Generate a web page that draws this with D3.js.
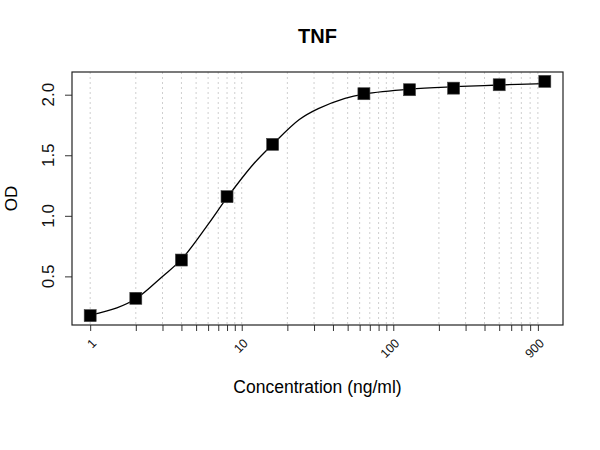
<!DOCTYPE html>
<html>
<head>
<meta charset="utf-8">
<script src="https://cdn.jsdelivr.net/npm/d3@7"></script>
<style>
  body { margin: 0; background: #fff; }
  svg { font-family: "Liberation Sans", Arial, sans-serif; }
</style>
</head>
<body>
<svg id="chart"></svg>
<script>
// measured standards (concentration, OD)
const conc = [1, 2, 4, 8, 16, 64, 128, 250, 500, 1000]
const od = [0.176, 0.319, 0.635, 1.158, 1.59, 2.008, 2.041, 2.054, 2.082, 2.110]

// fitted curve
const fitConc = [1, 1.5, 2, 3, 4, 6, 8, 12, 16, 24, 32, 48, 64, 128, 250, 500, 1000]
const fitOd = [0.18, 0.24, 0.315, 0.50, 0.64, 0.93, 1.15, 1.43, 1.59, 1.795, 1.885, 1.97, 2.005, 2.046, 2.066, 2.08, 2.092]

// axis ticks
const xTicks = [1, 2, 3, 4, 5, 6, 7, 8, 9, 10, 20, 30, 40, 50, 60, 70, 80, 90,
    100, 200, 300, 400, 500, 600, 700, 800, 900]
const xLabels = [1, 10, 100, 900]
const yTicks = [0.5, 1.0, 1.5, 2.0]

const width = 600, height = 450
const margin = {top: 72, right: 37, bottom: 125, left: 72}
const plotW = width - margin.left - margin.right
const plotH = height - margin.top - margin.bottom

const svg = d3.select('#chart')
    .attr('width', width)
    .attr('height', height)

const g = svg.append('g')
    .attr('transform', `translate(${margin.left}, ${margin.top})`)

// R style 4% padding around the data range
const lx = d3.extent(conc, d => Math.log10(d))
const padX = (lx[1] - lx[0]) * 0.04
const xScale = d3.scaleLog()
    .domain([Math.pow(10, lx[0] - padX), Math.pow(10, lx[1] + padX)])
    .range([0, plotW])

const ly = d3.extent(od)
const padY = (ly[1] - ly[0]) * 0.04
const yScale = d3.scaleLinear()
    .domain([ly[0] - padY, ly[1] + padY])
    .range([plotH, 0])

// dotted vertical grid
g.selectAll('.grid')
    .data(xTicks)
    .join('line')
    .attr('class', 'grid')
    .attr('x1', d => xScale(d))
    .attr('x2', d => xScale(d))
    .attr('y1', 0)
    .attr('y2', plotH)
    .attr('stroke', '#cfcfcf')
    .attr('stroke-width', 1)
    .attr('stroke-dasharray', '2,3')

// x axis
const xAxis = d3.axisBottom(xScale)
    .tickValues(xTicks)
    .tickSize(6)
    .tickFormat('')
const xAxisG = g.append('g')
    .attr('transform', `translate(0, ${plotH})`)
    .call(xAxis)
xAxisG.selectAll('.tick line').attr('stroke', '#333')

g.selectAll('.x-label')
    .data(xLabels)
    .join('text')
    .attr('class', 'x-label')
    .attr('transform', d => `translate(${xScale(d) + 7}, ${plotH + 19}) rotate(-45)`)
    .attr('text-anchor', 'end')
    .attr('font-size', 12.5)
    .attr('fill', '#111')
    .text(d => d)

// y axis
const yAxis = d3.axisLeft(yScale)
    .tickValues(yTicks)
    .tickSize(7)
    .tickFormat('')
const yAxisG = g.append('g').call(yAxis)
yAxisG.selectAll('.tick line').attr('stroke', '#333')

g.selectAll('.y-label')
    .data(yTicks)
    .join('text')
    .attr('class', 'y-label')
    .attr('transform', d => `translate(-18, ${yScale(d)}) rotate(-90)`)
    .attr('text-anchor', 'middle')
    .attr('font-size', 17)
    .attr('fill', '#111')
    .text(d => d.toFixed(1))

svg.selectAll('.domain').remove()

// plot box
g.append('rect')
    .attr('x', 0)
    .attr('y', 0)
    .attr('width', plotW)
    .attr('height', plotH)
    .attr('fill', 'none')
    .attr('stroke', '#222')
    .attr('stroke-width', 1.2)

// fitted curve
const fit = fitConc.map((c, i) => ({c: c, v: fitOd[i]}))
const line = d3.line()
    .x(d => xScale(d.c))
    .y(d => yScale(d.v))
    .curve(d3.curveCatmullRom.alpha(0.5))

g.append('path')
    .datum(fit)
    .attr('d', line)
    .attr('fill', 'none')
    .attr('stroke', '#000')
    .attr('stroke-width', 1.3)

// standards
const pts = conc.map((c, i) => ({c: c, v: od[i]}))
const size = 12
g.selectAll('.pt')
    .data(pts)
    .join('rect')
    .attr('class', 'pt')
    .attr('x', d => xScale(d.c) - size / 2)
    .attr('y', d => yScale(d.v) - size / 2)
    .attr('width', size)
    .attr('height', size)
    .attr('fill', '#000')
    .attr('stroke', '#444')
    .attr('stroke-width', 0.6)

// titles
svg.append('text')
    .attr('x', margin.left + plotW / 2)
    .attr('y', 43)
    .attr('text-anchor', 'middle')
    .attr('font-size', 20)
    .attr('font-weight', 'bold')
    .text('TNF')

svg.append('text')
    .attr('x', margin.left + plotW / 2)
    .attr('y', 393)
    .attr('text-anchor', 'middle')
    .attr('font-size', 17.5)
    .text('Concentration (ng/ml)')

svg.append('text')
    .attr('transform', `translate(17, ${margin.top + plotH / 2}) rotate(-90)`)
    .attr('text-anchor', 'middle')
    .attr('font-size', 17)
    .text('OD')
</script>
</body>
</html>
